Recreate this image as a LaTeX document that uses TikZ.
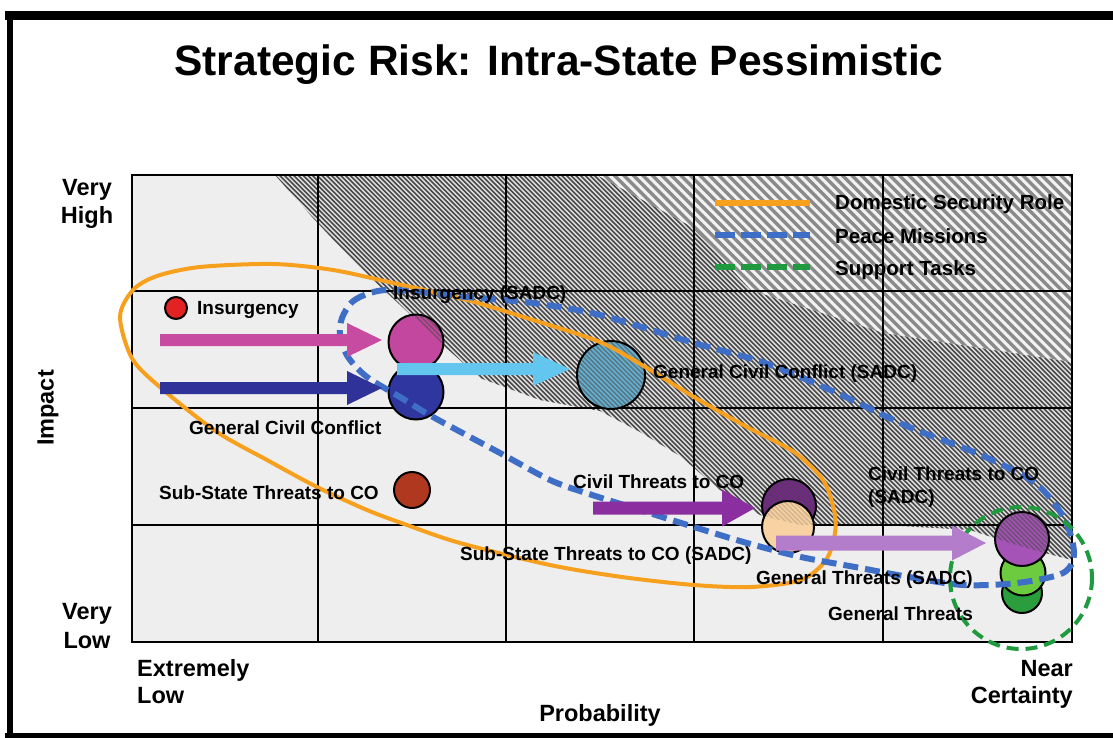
\documentclass[tikz,border=0pt]{standalone}
\usepackage{fontspec}
\setmainfont{Liberation Sans}
\definecolor{orangeL}{HTML}{F7A01E}
\definecolor{blueL}{HTML}{3F6EC6}
\definecolor{greenL}{HTML}{1F9A3E}
\definecolor{redc}{HTML}{E32224}
\definecolor{magc}{HTML}{C4479F}
\definecolor{dbluec}{HTML}{2F36A0}
\definecolor{steelc}{HTML}{66B2D3}
\definecolor{brownc}{HTML}{B0381E}
\definecolor{dpurpc}{HTML}{76248C}
\definecolor{peachc}{HTML}{F8D2A2}
\definecolor{purpc}{HTML}{A553B6}
\definecolor{lgreenc}{HTML}{6CCB3F}
\definecolor{dgreenc}{HTML}{2A9E3C}
\definecolor{pinkA}{HTML}{C84BA2}
\definecolor{dblueA}{HTML}{2F3399}
\definecolor{lblueA}{HTML}{63C6EE}
\definecolor{purpA}{HTML}{8B2E9F}
\definecolor{lavA}{HTML}{B47DCB}
\definecolor{gridbg}{HTML}{EEEEEE}
\definecolor{hbg}{HTML}{E2E2E2}
\definecolor{hdark}{HTML}{4A4A4A}
\definecolor{cbg}{HTML}{F2F2F2}
\definecolor{cdark}{HTML}{8A8A8A}
\newcommand{\clipregion}{\clip (275,175) -- (1072,175) -- (1072,560) -- (1045,553) -- (1010,543) -- (970,530) -- (900,526) -- (800,525) -- (760,515) -- (720,490) -- (680,456) -- (640,432) -- (600,411) -- (540,400) -- (480,378) -- (443,345) -- (413,317) -- (357,265) -- (313,218) -- cycle;}
\newcommand{\cliprcoarse}{\clip (597,175) -- (1072,175) -- (1072,362) -- (884,333) -- (751,290) -- (694,228) -- cycle;}
\newcommand{\denselines}[1]{\foreach \hc in {-300,-295.3,...,900} {\draw[hline,#1] (\hc+170,170) -- (\hc+580,580);}}
\newcommand{\riskcircle}[6]{% name x y r color overlay-opacity
  \coordinate (#1) at (#2,#3);
  \fill[#5] (#1) circle[radius=#4];
  \begin{scope}
    \clip (#1) circle[radius=#4];
    \clipregion
    \denselines{opacity=#6}
  \end{scope}
  \draw[cline] (#1) circle[radius=#4];}
\newcommand{\blockarrow}[7]{% x0 xh x1 y halfshaft halfhead color
  \fill[#7] (#1,#4-#5) -- (#2,#4-#5) -- (#2,#4-#6) -- (#3,#4) -- (#2,#4+#6) -- (#2,#4+#5) -- (#1,#4+#5) -- cycle;}
\begin{document}
\begin{tikzpicture}[x=1pt,y=-1pt,
  hline/.style={hdark,line width=1.6pt},
  cline/.style={black,line width=2pt},
  gridline/.style={black,line width=2.2pt},
  lbl/.style={font=\fontsize{19}{23}\selectfont\bfseries,inner sep=0pt,anchor=base west},
  axl/.style={font=\fontsize{23.5}{28}\selectfont\bfseries,inner sep=0pt},
  leg/.style={font=\fontsize{20.5}{24}\selectfont\bfseries,inner sep=0pt,anchor=base west},
  dsr/.style={orangeL,line width=4pt},
  pm/.style={blueL,line width=6pt,dash pattern=on 15pt off 7pt},
  st/.style={greenL,line width=4pt,dash pattern=on 12pt off 7pt}]
\useasboundingbox (0,0) rectangle (1113,737);
\fill[white] (0,0) rectangle (1113,737);
% frame
\draw[black,line width=9pt] (5,15.5) -- (1113,15.5);
\draw[black,line width=6pt] (10,11) -- (10,737);
\draw[black,line width=6pt] (5,735.5) -- (1113,735.5);
% title
\node[font=\fontsize{42.5}{50}\selectfont\bfseries,inner sep=0pt,anchor=base] (title) at (559,75) {Strategic Risk: Intra-State Pessimistic};
% grid background
\fill[gridbg] (132,175) rectangle (1072,642);
% dense hatch region
\begin{scope}
  \clipregion
  \fill[hbg] (132,175) rectangle (1072,642);
  \denselines{}
\end{scope}
% coarse hatch region
\begin{scope}
  \cliprcoarse
  \fill[cbg] (560,170) rectangle (1080,400);
  \foreach \hc in {230,239.5,...,900} {\draw[cdark,line width=3.3pt] (\hc+170,170) -- (\hc+420,420);}
\end{scope}
% grid lines
\foreach \gx in {318,506,694,883} {\draw[gridline] (\gx,175) -- (\gx,642);}
\foreach \gy in {291,408,525} {\draw[gridline] (132,\gy) -- (1072,\gy);}
\draw[black,line width=2.6pt] (132,175) rectangle (1072,642);
% axis labels
\node[axl,anchor=base] (vh1) at (87,195) {Very};
\node[axl,anchor=base] (vh2) at (87,223) {High};
\node[axl,anchor=base] (vl1) at (87,619) {Very};
\node[axl,anchor=base] (vl2) at (87,648) {Low};
\node[axl,rotate=90] (impact) at (48,408) {Impact};
\node[axl,anchor=base west] (el1) at (137,676) {Extremely};
\node[axl,anchor=base west] (el2) at (137,703) {Low};
\node[axl,anchor=base east] (nc1) at (1073,676) {Near};
\node[axl,anchor=base east] (nc2) at (1073,703) {Certainty};
\node[axl,anchor=base] (prob) at (600,721) {Probability};
% legend
\coordinate (lg1a) at (715,203); \coordinate (lg1b) at (810,203);
\coordinate (lg2a) at (715,235); \coordinate (lg2b) at (810,235);
\coordinate (lg3a) at (715,267); \coordinate (lg3b) at (810,267);
\draw[orangeL,line width=6pt] (lg1a) -- (lg1b);
\draw[blueL,line width=6pt,dash pattern=on 20pt off 6pt] (lg2a) -- (lg2b);
\draw[greenL,line width=6pt,dash pattern=on 20pt off 6pt] (lg3a) -- (lg3b);
\node[leg] (legdsr) at (835,209) {Domestic Security Role};
\node[leg] (legpm) at (835,243) {Peace Missions};
\node[leg] (legst) at (835,275) {Support Tasks};
% circles
\riskcircle{ins}{176}{308}{11}{redc}{.55}
\riskcircle{gcc}{416}{392}{27.5}{dbluec}{.55}
\riskcircle{insS}{416}{342}{27.5}{magc}{.55}
\riskcircle{gccS}{611}{375}{34}{steelc}{.55}
\riskcircle{sst}{412}{490}{18}{brownc}{.55}
\riskcircle{ctc}{789}{506}{27}{dpurpc}{.55}
\riskcircle{sstS}{788}{527}{26}{peachc}{.2}
\riskcircle{gt}{1022}{593}{20}{dgreenc}{.55}
\riskcircle{gtS}{1023}{573}{22.5}{lgreenc}{.55}
\riskcircle{ctcS}{1022}{539}{27}{purpc}{.55}
% loops
\draw[dsr] plot[smooth cycle] coordinates {(120,317) (133,290) (157,276) (200,267) (273,264) (333,270) (393,283) (467,300) (533,320) (600,342) (647,368) (694,397) (747,427) (794,452) (823,480) (834,510) (835,533) (826,560) (801,580) (751,587) (694,585) (622,577) (550,565) (460,543) (407,525) (367,510) (317,487) (267,460) (217,432) (167,393) (133,360)};
\draw[pm] plot[smooth cycle] coordinates {(342,318) (352,302) (370,293) (395,290) (467,297) (533,303) (600,315) (694,343) (765,363) (837,393) (909,427) (981,455) (1035,483) (1064,518) (1074,553) (1063,573) (1017,583) (963,585) (909,577) (855,567) (801,557) (747,543) (694,527) (640,510) (586,493) (550,480) (500,453) (433,417) (400,397) (367,377) (348,357) (340,335)};
\coordinate (stc) at (1021,578);
\draw[st] (stc) circle[radius=71];
% arrows
\blockarrow{160}{347}{382}{340}{6}{17}{pinkA}
\blockarrow{160}{347}{382}{388}{6}{17}{dblueA}
\blockarrow{397}{533}{570}{369}{6}{17}{lblueA}
\blockarrow{593}{722}{755}{508}{6.5}{18.5}{purpA}
\blockarrow{776}{952}{986}{543}{7.5}{17.5}{lavA}
% labels
\node[lbl] (tins) at (197,314) {Insurgency};
\node[lbl] (tinsS) at (393,299) {Insurgency (SADC)};
\node[lbl] (tgcc) at (189,434) {General Civil Conflict};
\node[lbl] (tgccS) at (653,378) {General Civil Conflict (SADC)};
\node[lbl] (tsst) at (159,499) {Sub-State Threats to CO};
\node[lbl] (tsstS) at (460,560) {Sub-State Threats to CO (SADC)};
\node[lbl] (tctc) at (573,488) {Civil Threats to CO};
\node[lbl] (tctcS1) at (868,480) {Civil Threats to CO};
\node[lbl] (tctcS2) at (868,503) {(SADC)};
\node[lbl] (tgtS) at (756,584) {General Threats (SADC)};
\node[lbl] (tgt) at (828,620) {General Threats};
\end{tikzpicture}
\end{document}
